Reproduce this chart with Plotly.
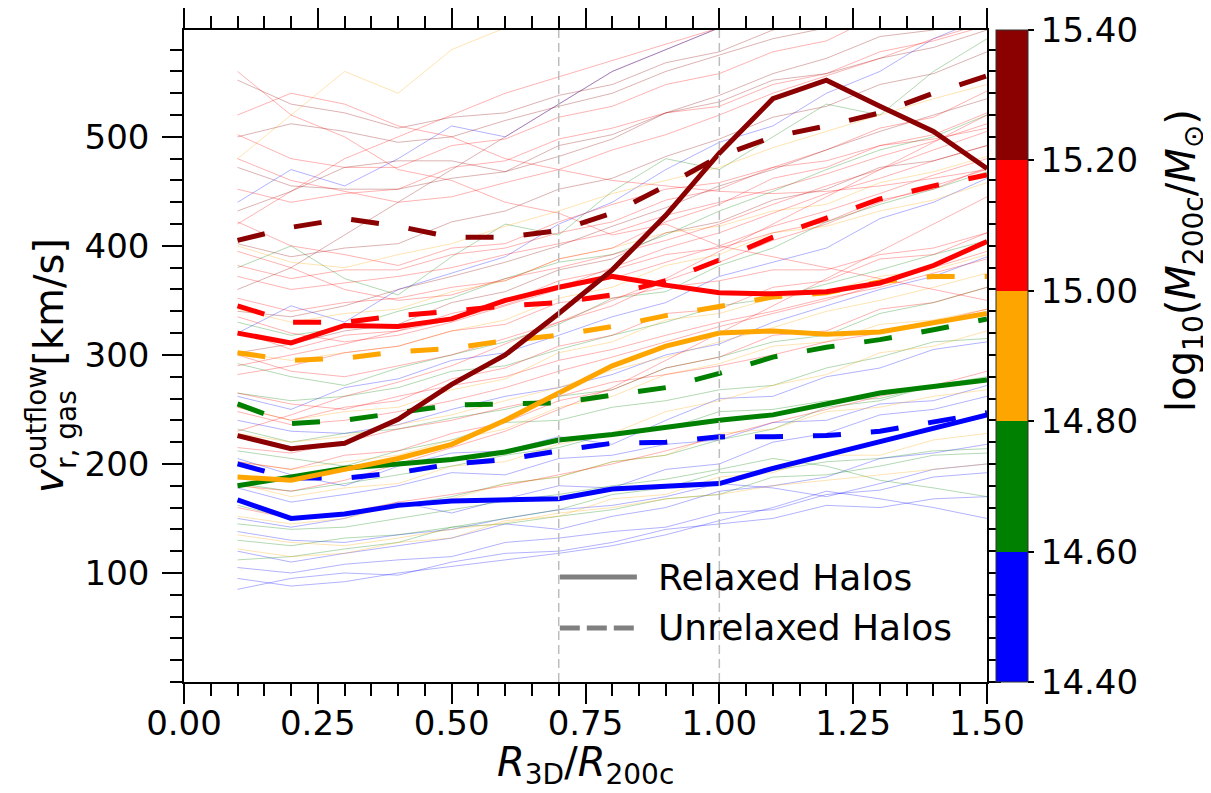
import plotly.graph_objects as go

# radial bins (R_3D / R_200c)
r_bins = [0.1, 0.2, 0.3, 0.4, 0.5, 0.6, 0.7, 0.8, 0.9, 1.0, 1.1, 1.2, 1.3, 1.4, 1.5]

# mass bins and their colours
mass_edges = [14.4, 14.6, 14.8, 15.0, 15.2, 15.4]
bin_colors = ["#0000ff", "#008000", "#ffa500", "#ff0000", "#8b0000"]

# median profiles, relaxed halos (solid)
relaxed = [
    [167, 150, 154, 162, 166, 167, 168, 177, 179, 182, 196, 208, 221, 232, 245],
    [180, 188, 196, 200, 204, 211, 222, 227, 234, 240, 245, 255, 265, 271, 277],
    [188, 185, 195, 205, 218, 240, 265, 290, 308, 320, 322, 319, 321, 330, 338],
    [320, 311, 327, 326, 333, 350, 362, 372, 364, 357, 356, 358, 366, 382, 404],
    [226, 214, 219, 241, 273, 300, 338, 378, 428, 485, 535, 552, 528, 505, 471],
]

# median profiles, unrelaxed halos (dashed)
unrelaxed = [
    [200, 187, 187, 192, 200, 204, 212, 219, 220, 225, 225, 226, 230, 238, 247],
    [255, 237, 240, 247, 254, 255, 256, 263, 270, 283, 298, 307, 314, 323, 333],
    [302, 295, 297, 303, 306, 313, 318, 326, 336, 344, 353, 357, 367, 372, 372],
    [345, 330, 330, 336, 340, 345, 348, 355, 368, 387, 408, 425, 443, 455, 465],
    [405, 417, 425, 418, 408, 408, 414, 430, 455, 482, 500, 510, 522, 540, 556],
]

# a sample of individual halo profiles (faint lines)
halos_blue = [
    [85, 95, 100, 98, 110, 118, 120, 128, 140, 145, 150, 162, 160, 168, 170],
    [120, 110, 118, 125, 132, 145, 140, 152, 160, 175, 180, 188, 205, 210, 218],
    [150, 142, 150, 165, 155, 168, 180, 178, 195, 200, 220, 228, 245, 250, 262],
    [205, 190, 180, 198, 210, 212, 225, 218, 240, 260, 262, 280, 288, 305, 312],
    [105, 100, 108, 112, 115, 128, 132, 138, 142, 155, 158, 172, 176, 188, 192],
    [262, 250, 270, 278, 295, 302, 318, 335, 348, 372, 385, 398, 425, 440, 462],
    [178, 165, 172, 180, 192, 190, 205, 208, 218, 222, 238, 240, 255, 258, 272],
    [320, 345, 330, 360, 375, 390, 420, 440, 470, 495, 510, 540, 560, 590, 610],
    [95, 88, 92, 100, 106, 112, 118, 125, 135, 148, 160, 175, 168, 160, 150],
    [138, 130, 128, 135, 140, 150, 158, 162, 170, 182, 178, 170, 182, 195, 200],
    [440, 470, 455, 480, 510, 500, 530, 560, 580, 600, 620, 640, 650, 660, 670],
    [240, 230, 228, 236, 250, 262, 270, 282, 300, 310, 330, 345, 360, 372, 390],
]
halos_green = [
    [130, 125, 132, 135, 142, 150, 158, 172, 178, 192, 194, 202, 205, 212, 214],
    [182, 175, 182, 190, 198, 208, 215, 228, 232, 248, 250, 258, 260, 272, 280],
    [232, 220, 228, 232, 242, 250, 262, 268, 288, 298, 312, 318, 338, 348, 362],
    [162, 150, 155, 162, 170, 182, 188, 202, 208, 222, 232, 252, 258, 272, 278],
    [292, 280, 272, 288, 300, 312, 328, 352, 358, 382, 398, 422, 438, 452, 468],
    [112, 115, 122, 128, 142, 145, 152, 158, 168, 172, 188, 190, 198, 208, 210],
    [212, 205, 198, 212, 222, 238, 240, 252, 258, 268, 272, 288, 298, 312, 315],
    [380, 400, 370, 355, 390, 420, 410, 450, 480, 470, 500, 530, 520, 560, 590],
    [145, 140, 142, 150, 158, 166, 172, 180, 186, 195, 205, 198, 185, 178, 170],
    [265, 258, 262, 270, 285, 290, 305, 318, 330, 345, 352, 365, 378, 392, 405],
    [330, 318, 325, 340, 352, 370, 385, 392, 410, 432, 450, 470, 488, 500, 520],
]
halos_orange = [
    [152, 145, 150, 162, 168, 182, 188, 202, 208, 228, 232, 248, 252, 262, 268],
    [202, 195, 202, 208, 222, 232, 252, 262, 282, 292, 308, 312, 328, 332, 342],
    [252, 240, 248, 252, 268, 278, 302, 312, 332, 338, 352, 358, 372, 378, 392],
    [302, 295, 302, 308, 322, 332, 352, 362, 382, 392, 412, 418, 432, 442, 458],
    [122, 115, 118, 128, 132, 148, 152, 168, 172, 188, 192, 208, 208, 222, 228],
    [182, 170, 178, 182, 198, 202, 218, 228, 248, 258, 272, 282, 302, 308, 322],
    [342, 330, 338, 342, 358, 368, 388, 398, 412, 418, 432, 438, 458, 468, 482],
    [480, 520, 560, 540, 580, 600, 620, 610, 640, 650, 630, 660, 640, 650, 660],
    [135, 128, 125, 132, 140, 146, 155, 160, 168, 172, 180, 185, 190, 195, 200],
    [228, 220, 225, 236, 245, 258, 270, 286, 298, 312, 325, 340, 350, 362, 375],
    [400, 385, 380, 392, 402, 418, 432, 448, 460, 472, 490, 505, 520, 535, 548],
]
halos_red = [
    [252, 240, 252, 258, 278, 288, 308, 318, 338, 342, 362, 368, 388, 392, 412],
    [322, 305, 318, 322, 338, 348, 368, 378, 392, 398, 412, 422, 442, 452, 472],
    [382, 370, 378, 378, 392, 398, 412, 422, 442, 452, 472, 488, 508, 518, 542],
    [452, 440, 448, 452, 472, 478, 498, 508, 522, 528, 548, 558, 578, 588, 602],
    [202, 195, 208, 212, 228, 238, 258, 268, 288, 298, 318, 322, 342, 348, 362],
    [502, 480, 472, 472, 492, 498, 518, 528, 548, 558, 578, 588, 612, 618, 632],
    [282, 290, 302, 308, 322, 328, 348, 352, 362, 368, 378, 378, 392, 398, 412],
    [422, 400, 392, 382, 398, 402, 422, 438, 452, 458, 472, 478, 492, 498, 508],
    [352, 340, 348, 352, 362, 368, 388, 398, 422, 438, 462, 472, 492, 502, 522],
    [230, 245, 262, 275, 290, 310, 330, 345, 368, 385, 405, 420, 440, 455, 470],
    [560, 520, 500, 470, 460, 440, 430, 410, 420, 400, 390, 380, 370, 360, 350],
    [300, 285, 280, 290, 300, 315, 330, 350, 370, 395, 420, 445, 470, 495, 520],
    [420, 450, 480, 500, 520, 540, 555, 570, 585, 600, 610, 620, 630, 640, 650],
    [180, 175, 185, 200, 215, 230, 250, 270, 295, 320, 345, 370, 395, 420, 445],
    [160, 150, 155, 165, 172, 180, 190, 200, 212, 225, 238, 250, 262, 272, 285],
    [265, 255, 250, 262, 272, 280, 295, 305, 318, 330, 340, 352, 362, 375, 388],
    [335, 320, 312, 318, 330, 345, 360, 370, 385, 400, 418, 432, 448, 465, 480],
    [395, 380, 360, 350, 355, 370, 380, 392, 405, 420, 438, 455, 470, 488, 505],
    [480, 460, 450, 440, 445, 458, 470, 488, 502, 520, 540, 556, 572, 590, 605],
    [520, 540, 530, 510, 500, 480, 470, 460, 455, 450, 448, 450, 455, 462, 470],
    [215, 210, 220, 232, 240, 252, 262, 275, 282, 290, 300, 312, 320, 330, 342],
    [372, 360, 366, 372, 380, 392, 402, 412, 428, 440, 452, 466, 482, 496, 512],
    [248, 236, 240, 248, 258, 270, 285, 298, 312, 326, 338, 350, 365, 380, 395],
    [290, 300, 310, 322, 332, 346, 362, 380, 398, 412, 430, 448, 462, 478, 492],
]
halos_darkred = [
    [552, 530, 522, 508, 518, 522, 538, 548, 568, 578, 598, 608, 622, 628, 642],
    [402, 390, 398, 402, 422, 432, 452, 462, 482, 498, 518, 528, 548, 558, 578],
    [472, 455, 452, 452, 462, 468, 492, 502, 522, 538, 558, 572, 592, 598, 612],
    [302, 310, 322, 328, 348, 358, 378, 388, 412, 422, 442, 452, 472, 478, 492],
    [432, 450, 472, 478, 478, 468, 482, 498, 522, 532, 552, 558, 572, 582, 598],
    [360, 380, 410, 440, 470, 500, 530, 560, 580, 600, 620, 640, 650, 660, 670],
    [500, 512, 505, 495, 500, 515, 528, 540, 560, 575, 590, 600, 612, 625, 640],
    [340, 335, 345, 360, 372, 385, 400, 418, 435, 455, 470, 488, 505, 520, 535],
]
halo_groups = [halos_blue, halos_green, halos_orange, halos_red, halos_darkred]

cbar_ticks = [14.4, 14.6, 14.8, 15.0, 15.2, 15.4]
x_ticks = [0.0, 0.25, 0.5, 0.75, 1.0, 1.25, 1.5]
y_ticks = [100, 200, 300, 400, 500]
ref_radii = [0.7, 1.0]


def rgba(hex_color, a):
    h = hex_color.lstrip("#")
    return "rgba(%d,%d,%d,%s)" % (int(h[0:2], 16), int(h[2:4], 16), int(h[4:6], 16), a)


FONT = "DejaVu Sans"
fig = go.Figure()

# faint individual halo profiles
for color, group in zip(bin_colors, halo_groups):
    for prof in group:
        fig.add_trace(go.Scatter(
            x=r_bins, y=prof, mode="lines",
            line=dict(color=rgba(color, 0.3), width=1),
            hoverinfo="skip", showlegend=False
        ))

# median profiles
for color, prof in zip(bin_colors, unrelaxed):
    fig.add_trace(go.Scatter(
        x=r_bins, y=prof, mode="lines",
        line=dict(color=color, width=5, dash="28px,30px"),
        showlegend=False
    ))
for color, prof in zip(bin_colors, relaxed):
    fig.add_trace(go.Scatter(
        x=r_bins, y=prof, mode="lines",
        line=dict(color=color, width=5),
        showlegend=False
    ))

# discrete colour bar
n = len(bin_colors)
cscale = []
for i, c in enumerate(bin_colors):
    cscale.append([i / n, c])
    cscale.append([(i + 1) / n, c])
fig.add_trace(go.Scatter(
    x=[None], y=[None], mode="markers",
    marker=dict(
        color=[mass_edges[0]], cmin=mass_edges[0], cmax=mass_edges[-1],
        colorscale=cscale, showscale=True,
        colorbar=dict(
            x=1.0115, xanchor="left", y=0.5, yanchor="middle",
            len=1, lenmode="fraction", thickness=32, thicknessmode="pixels",
            outlinewidth=1, outlinecolor="#333",
            tickvals=cbar_ticks, ticktext=["%.2f" % t for t in cbar_ticks],
            ticks="outside", ticklen=6, tickwidth=1.5, tickcolor="black",
            tickfont=dict(family=FONT, size=34, color="black"),
            xpad=0, ypad=0,
        ),
    ),
    showlegend=False, hoverinfo="skip"
))

# reference radii
for r in ref_radii:
    fig.add_vline(x=r, line=dict(color="#bdbdbd", width=1.5, dash="9px,5px"))

# hand-made legend
legend_rows = [("Relaxed Halos", "solid", 0.161), ("Unrelaxed Halos", "20px,7px", 0.083)]
for label, dash, yp in legend_rows:
    fig.add_shape(type="line", xref="paper", yref="paper",
                  x0=0.468, x1=0.564, y0=yp, y1=yp,
                  line=dict(color="#808080", width=5, dash=dash))
    fig.add_annotation(xref="paper", yref="paper", x=0.588, y=yp,
                       xanchor="left", yanchor="middle", showarrow=False,
                       text=label, font=dict(family=FONT, size=36, color="black"))

# colour bar label
fig.add_annotation(
    xref="paper", yref="paper", x=1.245, y=0.647, textangle=-90,
    showarrow=False, xanchor="center", yanchor="middle",
    text="log<sub>10</sub>(<i>M</i><sub>200c</sub>/<i>M</i><sub>⊙</sub>)",
    font=dict(family=FONT, size=40, color="black")
)
# x axis label
fig.add_annotation(
    xref="paper", yref="paper", x=0.4994, y=-0.127,
    showarrow=False, xanchor="center", yanchor="middle",
    text="<i>R</i><sub>3D</sub>/<i>R</i><sub>200c</sub>",
    font=dict(family=FONT, size=40, color="black")
)
# y axis label: superscript and subscript stacked
fig.add_annotation(
    xref="paper", yref="paper", x=-0.172, y=0.486, textangle=-90,
    showarrow=False, xanchor="center", yanchor="middle",
    text="<i>v</i><sup>outflow</sup>[km/s]",
    font=dict(family=FONT, size=40, color="black")
)
fig.add_annotation(
    xref="paper", yref="paper", x=-0.147, y=0.388, textangle=-90,
    showarrow=False, xanchor="center", yanchor="middle",
    text="r, gas",
    font=dict(family=FONT, size=28, color="black")
)

axis_common = dict(
    showline=True, linecolor="black", linewidth=1.5, mirror="allticks",
    ticks="outside", ticklen=20, tickwidth=1.5, tickcolor="black",
    showgrid=False, zeroline=False, automargin=False,
    tickfont=dict(family=FONT, size=34, color="black"),
)

fig.update_xaxes(
    range=[0, 1.5], tickvals=x_ticks, tickformat=".2f", ticklabelstandoff=-10,
    minor=dict(dtick=0.05, ticklen=12, tickwidth=1.5, tickcolor="black", ticks="outside"),
    **axis_common
)
fig.update_yaxes(
    range=[0, 598], tickvals=y_ticks, ticklabelstandoff=6,
    minor=dict(dtick=20, tick0=0, ticklen=12, tickwidth=1.5, tickcolor="black", ticks="outside"),
    **axis_common
)

fig.update_layout(
    width=1203, height=785,
    margin=dict(l=176, r=224, t=22, b=111, autoexpand=False),
    plot_bgcolor="white", paper_bgcolor="white",
    showlegend=False,
)

fig.write_html("out.html")
